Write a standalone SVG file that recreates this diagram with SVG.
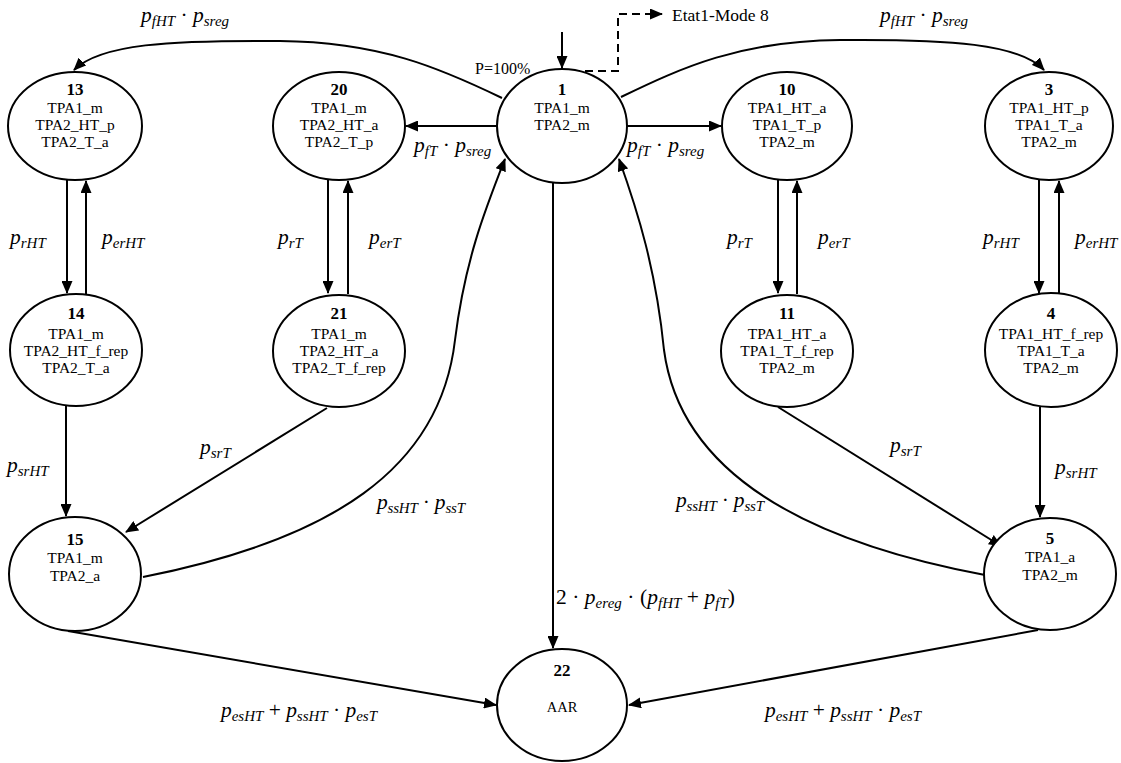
<svg xmlns="http://www.w3.org/2000/svg" width="1121" height="763" viewBox="0 0 1121 763">
<defs>
<marker id="ah" markerWidth="13" markerHeight="11" refX="12" refY="5.5" orient="auto" markerUnits="userSpaceOnUse">
<path d="M0,0 L13,5.5 L0,11 z" fill="#000"/>
</marker>
<style>
.n ellipse{fill:#fff;stroke:#000;stroke-width:2}
.n text{font-family:"Liberation Serif","Times New Roman",serif;font-size:15.5px;text-anchor:middle;fill:#000}
.n text.num{font-weight:bold;font-size:17px}
.e{fill:none;stroke:#000;stroke-width:2}
.ea{fill:none;stroke:#000;stroke-width:2;marker-end:url(#ah)}
.lb{font-family:"Liberation Serif","Times New Roman",serif;font-style:italic;font-size:21.5px;fill:#000}
.lb .s{font-size:15px}
.lb .d{font-style:normal}
.plain{font-family:"Liberation Serif","Times New Roman",serif;font-size:16px;fill:#000}
</style>
</defs>
<rect width="1121" height="763" fill="#fff"/>

<g id="connectors">
<path class="ea" d="M562,32 V68"/>
<path class="ea" d="M572,71 H618 V14 H662" stroke-dasharray="8,5"/>
<path class="ea" d="M502,98 C440,68 380,42 280,41 C170,40 100,44 74,70"/>
<path class="ea" d="M621,97 C683,67 740,41 840,40 C950,39 1020,44 1044,70"/>
<path class="ea" d="M497,126 H406"/>
<path class="ea" d="M627,126 H721"/>
<path class="ea" d="M67,180 V293"/>
<path class="ea" d="M86,294 V181"/>
<path class="ea" d="M328,180 V293"/>
<path class="ea" d="M348,294 V181"/>
<path class="ea" d="M778,180 V293"/>
<path class="ea" d="M797,294 V181"/>
<path class="ea" d="M1039,180 V293"/>
<path class="ea" d="M1059,294 V181"/>
<path class="ea" d="M66,406 V516"/>
<path class="ea" d="M1040,407 V517"/>
<path class="ea" d="M327,408 L126,532"/>
<path class="ea" d="M778,407 L1001,546"/>
<path class="ea" d="M143,577 C330,540 440,470 455,340 C465,260 485,210 505,159"/>
<path class="ea" d="M985,575 C798,540 680,470 664,350 C656,270 638,212 619,159"/>
<path class="ea" d="M553,182 V648"/>
<path class="ea" d="M68,631 L496,705"/>
<path class="ea" d="M1038,630 L629,705"/>
</g>

<g id="labels">
<text class="plain" x="475" y="74">P=100%</text>
<text class="plain" x="672" y="21" style="font-size:17.5px">Etat1-Mode 8</text>
<text class="lb" x="141" y="22">p<tspan class="s" dy="4">fHT</tspan><tspan class="d" dy="-4"> · </tspan>p<tspan class="s" dy="4">sreg</tspan></text>
<text class="lb" x="880" y="22">p<tspan class="s" dy="4">fHT</tspan><tspan class="d" dy="-4"> · </tspan>p<tspan class="s" dy="4">sreg</tspan></text>
<text class="lb" x="414" y="152">p<tspan class="s" dy="4">fT</tspan><tspan class="d" dy="-4"> · </tspan>p<tspan class="s" dy="4">sreg</tspan></text>
<text class="lb" x="627" y="152">p<tspan class="s" dy="4">fT</tspan><tspan class="d" dy="-4"> · </tspan>p<tspan class="s" dy="4">sreg</tspan></text>
<text class="lb" x="10" y="244">p<tspan class="s" dy="4">rHT</tspan></text>
<text class="lb" x="102" y="244">p<tspan class="s" dy="4">erHT</tspan></text>
<text class="lb" x="278" y="244">p<tspan class="s" dy="4">rT</tspan></text>
<text class="lb" x="369" y="244">p<tspan class="s" dy="4">erT</tspan></text>
<text class="lb" x="727" y="244">p<tspan class="s" dy="4">rT</tspan></text>
<text class="lb" x="818" y="244">p<tspan class="s" dy="4">erT</tspan></text>
<text class="lb" x="983" y="244">p<tspan class="s" dy="4">rHT</tspan></text>
<text class="lb" x="1075" y="244">p<tspan class="s" dy="4">erHT</tspan></text>
<text class="lb" x="7" y="472">p<tspan class="s" dy="4">srHT</tspan></text>
<text class="lb" x="200" y="454">p<tspan class="s" dy="4">srT</tspan></text>
<text class="lb" x="377" y="509" textLength="88">p<tspan class="s" dy="4">ssHT</tspan><tspan class="d" dy="-4"> · </tspan>p<tspan class="s" dy="4">ssT</tspan></text>
<text class="lb" x="676" y="507" textLength="88">p<tspan class="s" dy="4">ssHT</tspan><tspan class="d" dy="-4"> · </tspan>p<tspan class="s" dy="4">ssT</tspan></text>
<text class="lb" x="890" y="452">p<tspan class="s" dy="4">srT</tspan></text>
<text class="lb" x="1055" y="474">p<tspan class="s" dy="4">srHT</tspan></text>
<text class="lb" x="556" y="604" textLength="179"><tspan class="d">2 · </tspan>p<tspan class="s" dy="4">ereg</tspan><tspan class="d" dy="-4"> · (</tspan>p<tspan class="s" dy="4">fHT</tspan><tspan class="d" dy="-4"> + </tspan>p<tspan class="s" dy="4">fT</tspan><tspan class="d" dy="-4">)</tspan></text>
<text class="lb" x="221" y="717" textLength="156">p<tspan class="s" dy="4">esHT</tspan><tspan class="d" dy="-4"> + </tspan>p<tspan class="s" dy="4">ssHT</tspan><tspan class="d" dy="-4"> · </tspan>p<tspan class="s" dy="4">esT</tspan></text>
<text class="lb" x="765" y="717" textLength="156">p<tspan class="s" dy="4">esHT</tspan><tspan class="d" dy="-4"> + </tspan>p<tspan class="s" dy="4">ssHT</tspan><tspan class="d" dy="-4"> · </tspan>p<tspan class="s" dy="4">esT</tspan></text>
</g>

<g id="n13" class="n"><ellipse cx="75" cy="126" rx="67" ry="54"/>
<text class="num" x="75" y="95">13</text><text x="75" y="113">TPA1_m</text><text x="75" y="130">TPA2_HT_p</text><text x="75" y="147">TPA2_T_a</text></g>
<g id="n20" class="n"><ellipse cx="339" cy="126" rx="66" ry="54"/>
<text class="num" x="339" y="95">20</text><text x="339" y="113">TPA1_m</text><text x="339" y="130">TPA2_HT_a</text><text x="339" y="147">TPA2_T_p</text></g>
<g id="n1" class="n"><ellipse cx="562" cy="126" rx="65" ry="57"/>
<text class="num" x="562" y="95">1</text><text x="562" y="113">TPA1_m</text><text x="562" y="130">TPA2_m</text></g>
<g id="n10" class="n"><ellipse cx="787" cy="126" rx="65" ry="54"/>
<text class="num" x="787" y="95">10</text><text x="787" y="113">TPA1_HT_a</text><text x="787" y="130">TPA1_T_p</text><text x="787" y="147">TPA2_m</text></g>
<g id="n3" class="n"><ellipse cx="1049" cy="126" rx="64" ry="54"/>
<text class="num" x="1049" y="95">3</text><text x="1049" y="113">TPA1_HT_p</text><text x="1049" y="130">TPA1_T_a</text><text x="1049" y="147">TPA2_m</text></g>
<g id="n14" class="n"><ellipse cx="76" cy="350" rx="66" ry="56"/>
<text class="num" x="76" y="319">14</text><text x="76" y="339">TPA1_m</text><text x="76" y="356">TPA2_HT_f_rep</text><text x="76" y="373">TPA2_T_a</text></g>
<g id="n21" class="n"><ellipse cx="339" cy="351" rx="66" ry="56"/>
<text class="num" x="339" y="319">21</text><text x="339" y="339">TPA1_m</text><text x="339" y="356">TPA2_HT_a</text><text x="339" y="373">TPA2_T_f_rep</text></g>
<g id="n11" class="n"><ellipse cx="787" cy="351" rx="66" ry="56"/>
<text class="num" x="787" y="319">11</text><text x="787" y="339">TPA1_HT_a</text><text x="787" y="356">TPA1_T_f_rep</text><text x="787" y="373">TPA2_m</text></g>
<g id="n4" class="n"><ellipse cx="1051" cy="350" rx="66" ry="57"/>
<text class="num" x="1051" y="319">4</text><text x="1051" y="339">TPA1_HT_f_rep</text><text x="1051" y="356">TPA1_T_a</text><text x="1051" y="373">TPA2_m</text></g>
<g id="n15" class="n"><ellipse cx="75" cy="574" rx="66" ry="57"/>
<text class="num" x="75" y="545">15</text><text x="75" y="563">TPA1_m</text><text x="75" y="581">TPA2_a</text></g>
<g id="n5" class="n"><ellipse cx="1050" cy="574" rx="66" ry="56"/>
<text class="num" x="1050" y="544">5</text><text x="1050" y="562">TPA1_a</text><text x="1050" y="580">TPA2_m</text></g>
<g id="n22" class="n"><ellipse cx="562" cy="705" rx="65" ry="56"/>
<text class="num" x="562" y="676">22</text><text x="562" y="712" style="font-size:14.5px">AAR</text></g>
</svg>
